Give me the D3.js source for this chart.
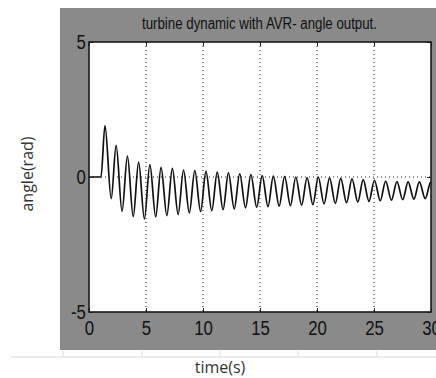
<!DOCTYPE html>
<html lang="en">
<head>
    <meta charset="UTF-8">
    <title>turbine dynamic with AVR</title>
    <script src="https://d3js.org/d3.v7.min.js"></script>
    <style>
        body { margin: 0; background: #fff; }
        .tick text { font-family: "Liberation Sans Narrow", "Arial Narrow", "Liberation Sans", sans-serif; font-size: 21px; fill: #111; }
        .grid line { stroke: #222; stroke-width: 1.1; stroke-dasharray: 1,3; }
        .label { font-family: "Open Sans", sans-serif; font-size: 16px; fill: #333; }
    </style>
</head>
<body>
    <div id="chart"></div>
    <script>
        // axis ticks
        const xTicks = [0, 5, 10, 15, 20, 25, 30];
        const yTicks = [-5, 0, 5];

        // angle trace (flat start, then peaks/troughs)
        const times = [0, 1.05, 1.40, 1.95, 2.38, 2.90, 3.37, 3.88, 4.35, 4.86, 5.34, 5.85, 6.32, 6.83,
            7.31, 7.82, 8.29, 8.80, 9.28, 9.79, 10.26, 10.77, 11.25, 11.76, 12.23, 12.74, 13.22, 13.73,
            14.20, 14.71, 15.19, 15.70, 16.17, 16.68, 17.16, 17.67, 18.14, 18.65, 19.13, 19.64, 20.11,
            20.62, 21.10, 21.61, 22.08, 22.59, 23.07, 23.58, 24.05, 24.56, 25.04, 25.55, 26.02, 26.53,
            27.01, 27.52, 27.99, 28.50, 28.98, 29.49, 29.96, 30];
        const angles = [0, 0, 1.90, -0.80, 1.17, -1.27, 0.77, -1.47, 0.55, -1.55, 0.46, -1.48, 0.36, -1.43,
            0.32, -1.39, 0.26, -1.33, 0.24, -1.28, 0.21, -1.25, 0.18, -1.21, 0.15, -1.18, 0.12, -1.14,
            0.09, -1.12, 0.05, -1.10, 0.03, -1.08, 0.02, -1.06, 0.0, -1.04, -0.02, -1.02, 0.0,
            -1.00, -0.03, -0.98, -0.05, -0.95, -0.07, -0.93, -0.10, -0.90, -0.12, -0.88, -0.15, -0.86,
            -0.17, -0.84, -0.18, -0.82, -0.18, -0.80, -0.20, -0.19];

        const data = times.map((t, i) => ({t: t, v: angles[i]}));

        const W = 436, H = 378;
        const box = {left: 89, right: 431, top: 42, bottom: 312};

        const svg = d3.select("#chart").append("svg")
            .attr("width", W)
            .attr("height", H);

        // grey figure background
        svg.append("rect")
            .attr("x", 60).attr("y", 8)
            .attr("width", W - 60).attr("height", 342)
            .attr("fill", "#8a8a8a");

        // faint page line under the figure
        svg.append("line")
            .attr("x1", 11).attr("x2", W).attr("y1", 357).attr("y2", 357)
            .attr("stroke", "#d8d8d8");
        [63, 142, 220, 298, 377].forEach(px => {
            svg.append("line")
                .attr("x1", px).attr("x2", px).attr("y1", 351).attr("y2", 357)
                .attr("stroke", "#d8d8d8");
        });

        const x = d3.scaleLinear().domain([0, 30]).range([box.left, box.right]);
        const y = d3.scaleLinear().domain([-5, 5]).range([box.bottom, box.top]);

        svg.append("rect")
            .attr("x", box.left).attr("y", box.top)
            .attr("width", box.right - box.left).attr("height", box.bottom - box.top)
            .attr("fill", "#fff");

        // dotted grid
        const grid = svg.append("g").attr("class", "grid");
        grid.selectAll(".vx")
            .data(xTicks.slice(1, -1))
          .enter().append("line")
            .attr("x1", d => x(d)).attr("x2", d => x(d))
            .attr("y1", box.top).attr("y2", box.bottom);
        grid.append("line")
            .attr("x1", box.left).attr("x2", box.right)
            .attr("y1", y(0)).attr("y2", y(0));

        // trace
        const line = d3.line()
            .x(d => x(d.t))
            .y(d => y(d.v))
            .curve(d3.curveMonotoneX);
        svg.append("path")
            .datum(data)
            .attr("d", line)
            .attr("fill", "none")
            .attr("stroke", "#111")
            .attr("stroke-width", 1.7);

        // axes, ticks pointing inward like matlab
        const xAxis = svg.append("g")
            .attr("transform", "translate(0," + box.bottom + ")")
            .call(d3.axisBottom(x).tickValues(xTicks).tickFormat(d => String(d))
                .tickSizeInner(-4).tickSizeOuter(0).tickPadding(8));
        svg.append("g")
            .attr("transform", "translate(0," + box.top + ")")
            .call(d3.axisTop(x).tickValues(xTicks).tickFormat("")
                .tickSizeInner(-4).tickSizeOuter(0));
        const yAxis = svg.append("g")
            .attr("transform", "translate(" + box.left + ",0)")
            .call(d3.axisLeft(y).tickValues(yTicks).tickFormat(d => String(d))
                .tickSizeInner(-4).tickSizeOuter(0).tickPadding(4));
        svg.append("g")
            .attr("transform", "translate(" + box.right + ",0)")
            .call(d3.axisRight(y).tickValues(yTicks).tickFormat("")
                .tickSizeInner(-4).tickSizeOuter(0));

        svg.selectAll(".domain").remove();
        svg.selectAll(".tick line").attr("stroke", "#222");
        xAxis.selectAll(".tick text").attr("transform", "scale(0.8,1)");
        yAxis.selectAll(".tick text").attr("transform", "scale(0.8,1)");

        // plot frame
        svg.append("rect")
            .attr("x", box.left).attr("y", box.top)
            .attr("width", box.right - box.left).attr("height", box.bottom - box.top)
            .attr("fill", "none")
            .attr("stroke", "#1a1a1a")
            .attr("stroke-width", 1.6);

        // title
        svg.append("text")
            .attr("x", 259.5)
            .attr("y", 29)
            .attr("text-anchor", "middle")
            .attr("textLength", 235)
            .attr("lengthAdjust", "spacingAndGlyphs")
            .style("font-family", "'Liberation Sans Narrow', 'Liberation Sans', sans-serif")
            .style("font-size", "16px")
            .style("fill", "#111")
            .text("turbine dynamic with AVR- angle output.");

        svg.append("text")
            .attr("class", "label")
            .attr("x", 220)
            .attr("y", 373)
            .attr("text-anchor", "middle")
            .text("time(s)");

        svg.append("text")
            .attr("class", "label")
            .attr("transform", "translate(33,174) rotate(-90)")
            .attr("text-anchor", "middle")
            .text("angle(rad)");
    </script>
</body>
</html>
